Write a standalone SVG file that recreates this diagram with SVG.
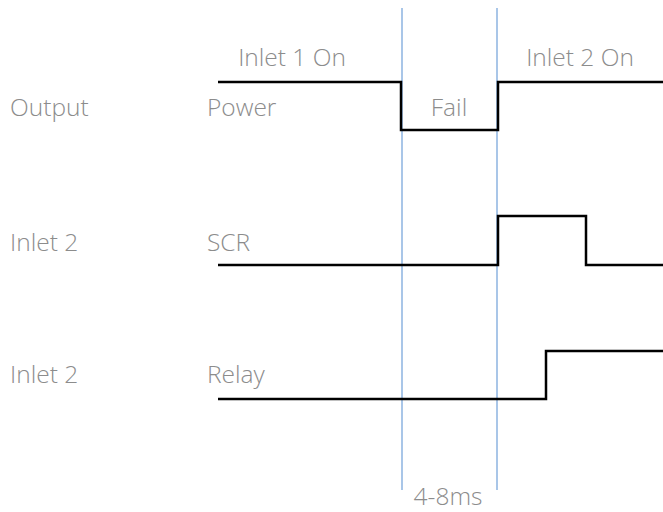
<svg xmlns="http://www.w3.org/2000/svg" width="663" height="512" viewBox="0 0 663 512">
<style>
.t{font-family:"Open Sans","Noto Sans","Liberation Sans",sans-serif;font-size:24.5px;fill:#8c8c8c;font-weight:300}
.sig{fill:none;stroke:#000;stroke-width:2.5}
.guide{stroke:#a9c6e8;stroke-width:2}
</style>
<rect width="663" height="512" fill="#fff"/>
<g id="guides">
<line class="guide" x1="402" y1="8" x2="402" y2="490"/>
<line class="guide" x1="497" y1="8" x2="497" y2="490"/>
</g>
<g id="connectors">
<polyline id="power-wave" class="sig" points="218,82 401,82 401,130 498,130 498,82 663,82"/>
<polyline id="scr-wave" class="sig" points="218,265 498,265 498,216 586,216 586,265 663,265"/>
<polyline id="relay-wave" class="sig" points="218,399 546,399 546,351 663,351"/>
</g>
<g id="power">
<text class="t" x="10" y="116">Output</text>
<text class="t" x="207" y="116">Power</text>
<text class="t" x="292" y="66" text-anchor="middle">Inlet 1 On</text>
<text class="t" x="449" y="116" text-anchor="middle">Fail</text>
<text class="t" x="580" y="66" text-anchor="middle">Inlet 2 On</text>
</g>
<g id="scr">
<text class="t" x="10" y="251">Inlet 2</text>
<text class="t" x="207" y="251">SCR</text>
</g>
<g id="relay">
<text class="t" x="10" y="383">Inlet 2</text>
<text class="t" x="207" y="383">Relay</text>
</g>
<g id="timing">
<text class="t" x="448" y="505" text-anchor="middle">4-8ms</text>
</g>
</svg>
